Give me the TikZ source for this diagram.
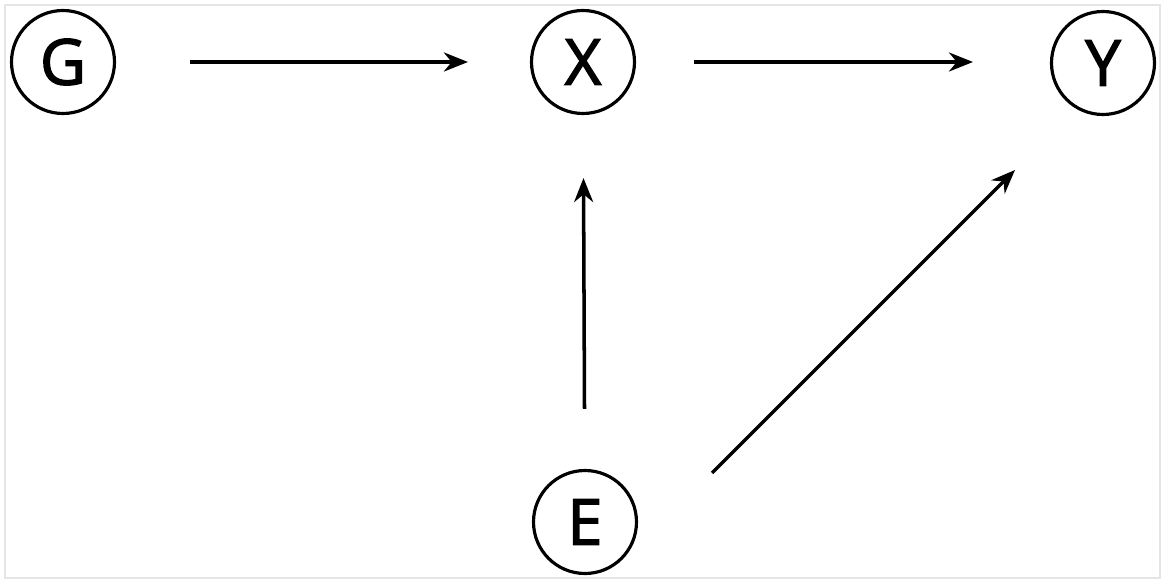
\documentclass[tikz,border=0pt]{standalone}
\usepackage{fontspec}
\setmainfont{Open Sans}
\newfontfamily\varfont{Open Sans}[BoldFont={Open Sans}, BoldFeatures={FakeBold=2.2}]
\usetikzlibrary{arrows.meta, calc}

\begin{document}
\begin{tikzpicture}[
        var/.style={circle, draw=black, line width=1.8pt, minimum size=2.06cm, inner sep=0pt, font=\varfont\bfseries\fontsize{36}{40}\selectfont},
        arrow/.style={-{Stealth[length=0.48cm, width=0.38cm]}, line width=2pt, draw=black}
    ]
        % frame of the picture
        \useasboundingbox (0,0) rectangle (23.28,11.62);
        \draw[gray!20, line width=0.8pt] (0.1,0.06) rectangle (23.2,11.52);

        \node[var] (G) at (1.26,10.38) {G};
        \node[var] (X) at (11.66,10.38) {X};
        \node[var] (Y) at (22.06,10.36) {Y};
        \node[var] (E) at (11.7,1.18) {E};

        \draw[arrow, shorten <=1.48cm, shorten >=1.24cm] (G) -- (X);
        \draw[arrow, shorten <=1.16cm, shorten >=2.6cm] (X) -- (X-|Y);
        \draw[arrow, shorten <=1.2cm, shorten >=1.26cm] (E) -- (X);
        \draw[arrow] ($(E)+(2.54,0.98)$) -- ($(Y)+(-1.76,-2.14)$);
    \end{tikzpicture}
\end{document}
